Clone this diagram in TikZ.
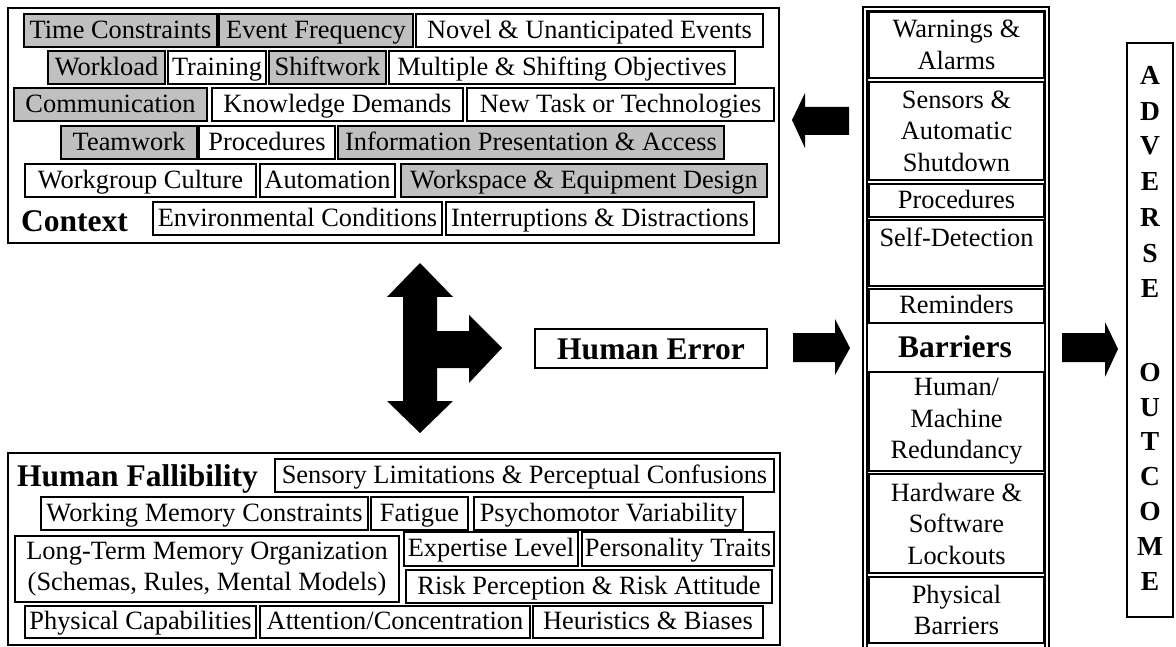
\documentclass[tikz,border=0pt]{standalone}
\usepackage{fontspec}
\setmainfont{Liberation Serif}
\definecolor{silver}{RGB}{192,192,192}
\tikzset{
  bx/.style={draw, line width=1.3pt, inner sep=0pt, font=\fontsize{26.4}{31.5}\selectfont, text height=21pt, text depth=5.5pt},
  gbx/.style={bx, fill=silver},
  mbx/.style={draw, line width=1.3pt, inner sep=0pt, font=\fontsize{26.4}{31.5}\selectfont, align=center},
  frame/.style={draw, line width=2pt},
  head/.style={font=\bfseries\fontsize{31.5}{34}\selectfont, inner sep=0pt},
  letter/.style={font=\bfseries\fontsize{27.5}{30}\selectfont, inner sep=0pt, text height=18pt, text depth=0pt},
  blockarrow/.style={fill=black},
}
\newcommand{\Bx}[7]{\node[#1, minimum width={#5pt-#3pt}, minimum height={#6pt-#4pt}] (#2) at ({(#3+#5)/2},{(#4+#6)/2}) {#7};}
\begin{document}
\begin{tikzpicture}[x=1pt,y=-1pt]
\useasboundingbox (0,0) rectangle (1176,647);

% ---------- Context ----------
\draw[frame] (8,8) rectangle (779,243);
\Bx{gbx}{c11}{24}{14}{217}{47}{Time Constraints}
\Bx{gbx}{c12}{219}{14}{413}{47}{Event Frequency}
\Bx{bx}{c13}{416}{14}{763}{47}{Novel \& Unanticipated Events}
\Bx{gbx}{c21}{48}{51}{165}{84}{Workload}
\Bx{bx}{c22}{168}{51}{266}{84}{Training}
\Bx{gbx}{c23}{269}{51}{386}{84}{Shiftwork}
\Bx{bx}{c24}{389}{51}{735}{84}{Multiple \& Shifting Objectives}
\Bx{gbx}{c31}{14}{88}{207}{121}{Communication}
\Bx{bx}{c32}{212}{88}{463}{121}{Knowledge Demands}
\Bx{bx}{c33}{467}{88}{774}{121}{New Task or Technologies}
\Bx{gbx}{c41}{61}{126}{197}{159}{Teamwork}
\Bx{bx}{c42}{199}{126}{335}{159}{Procedures}
\Bx{gbx}{c43}{338}{126}{724}{159}{Information Presentation \& Access}
\Bx{bx}{c51}{25}{164}{256}{197}{Workgroup Culture}
\Bx{bx}{c52}{260}{164}{395}{197}{Automation}
\Bx{gbx}{c53}{401}{164}{767}{197}{Workspace \& Equipment Design}
\Bx{bx}{c61}{153}{202}{442}{235}{Environmental Conditions}
\Bx{bx}{c62}{446}{202}{754}{235}{Interruptions \& Distractions}
\node[head, anchor=base west] (context) at (21,232) {Context};

% ---------- Human Fallibility ----------
\draw[frame] (8,453) rectangle (780,645);
\node[head, anchor=base west] (fall) at (17,486) {Human Fallibility};
\Bx{bx}{f11}{275}{459}{774}{492}{Sensory Limitations \& Perceptual Confusions}
\Bx{bx}{f21}{41}{497}{368}{530}{Working Memory Constraints}
\Bx{bx}{f22}{371}{497}{468}{530}{Fatigue}
\Bx{bx}{f23}{474}{497}{743}{530}{Psychomotor Variability}
\Bx{mbx}{f31}{15}{536}{399}{602}{Long-Term Memory Organization\\(Schemas, Rules, Mental Models)}
\Bx{bx}{f32}{404}{532}{578}{566}{Expertise Level}
\Bx{bx}{f33}{582}{532}{774}{566}{Personality Traits}
\Bx{bx}{f34}{406}{570}{772}{603}{Risk Perception \& Risk Attitude}
\Bx{bx}{f41}{25}{606}{256}{638}{Physical Capabilities}
\Bx{bx}{f42}{260}{606}{530}{638}{Attention/Concentration}
\Bx{bx}{f43}{533}{606}{763}{638}{Heuristics \& Biases}

% ---------- Human Error ----------
\node[draw, line width=1.6pt, inner sep=0pt, minimum width=232pt, minimum height=39pt,
      font=\bfseries\fontsize{31.5}{34}\selectfont, text height=21pt, text depth=0pt]
      (err) at (651,348.5) {Human Error};

% ---------- Barriers column ----------
\draw[line width=1.3pt] (863,647) -- (863,7) -- (1049,7) -- (1049,647);
\draw[line width=1.3pt] (867,647) -- (867,10.5) -- (1045,10.5) -- (1045,647);
\Bx{mbx}{b1}{869}{12}{1044}{78}{Warnings \&\\Alarms}
\Bx{mbx}{b2}{869}{82}{1044}{180}{Sensors \&\\Automatic\\Shutdown}
\Bx{bx}{b3}{869}{184}{1044}{217}{Procedures}
\Bx{mbx}{b4}{869}{220}{1044}{286}{Self-Detection\\\mbox{}}
\Bx{bx}{b5}{869}{289}{1044}{323}{Reminders}
\node[head, anchor=base] (barriers) at (955,357) {Barriers};
\Bx{mbx}{b6}{869}{372}{1044}{471}{Human/\\Machine\\Redundancy}
\Bx{mbx}{b7}{869}{474}{1044}{573}{Hardware \&\\Software\\Lockouts}
\Bx{mbx}{b8}{869}{577}{1044}{643}{Physical\\Barriers}

% ---------- Adverse outcome ----------
\draw[frame] (1127,43) rectangle (1173,617);
\foreach \l/\yy in {A/76,D/111.5,V/146,E/182,R/218,S/253,E/289,O/372,U/407,T/441,C/476,O/511,M/546,E/581}
  \node[letter] at (1150,\yy) {\l};

% ---------- Block arrows ----------
% Barriers -> Context (pointing left)
\fill[blockarrow] (792,120) -- (805,93) -- (805,107) -- (849,107) -- (849,135) -- (805,135) -- (805,148) -- cycle;
% Human Error -> Barriers
\fill[blockarrow] (793,333) -- (835,333) -- (835,319) -- (850,348) -- (835,375) -- (835,362) -- (793,362) -- cycle;
% Barriers -> Adverse outcome
\fill[blockarrow] (1062,333) -- (1105,333) -- (1105,322) -- (1118,349) -- (1105,377) -- (1105,362) -- (1062,362) -- cycle;
% Context <-> Human Fallibility, -> Human Error
\fill[blockarrow] (420,263) -- (453,297) -- (437,297) -- (437,331) -- (469,331) -- (469,315) -- (502,348)
  -- (469,383) -- (469,368) -- (437,368) -- (437,401) -- (453,401) -- (420,433) -- (387,401)
  -- (403,401) -- (403,297) -- (387,297) -- cycle;
\end{tikzpicture}
\end{document}
